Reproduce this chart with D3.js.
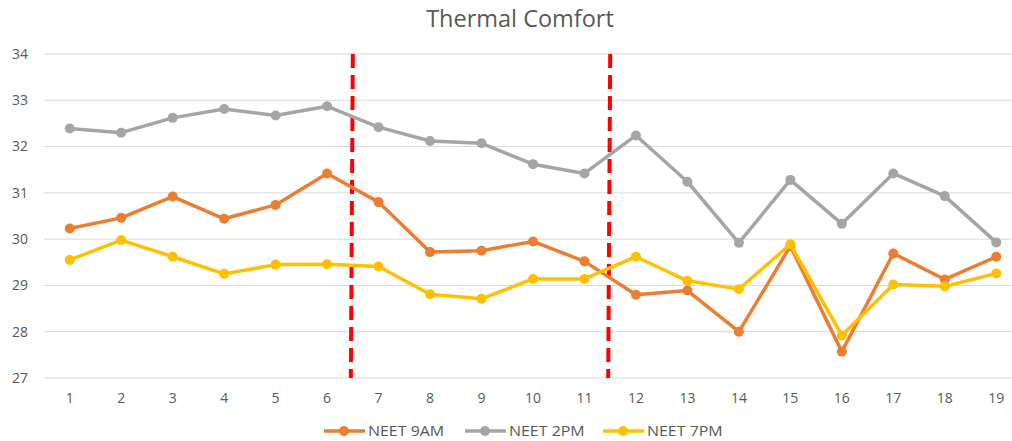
<!DOCTYPE html>
<html>
<head>
<meta charset="utf-8">
<script src="https://cdn.jsdelivr.net/npm/d3@7"></script>
<style>
  body { margin: 0; background: #fff; }
  svg { display: block; font-family: 'Open Sans', sans-serif; }
</style>
</head>
<body>
<div id="chart"></div>
<script>
const days = [1,2,3,4,5,6,7,8,9,10,11,12,13,14,15,16,17,18,19]
const neet9am = [30.23,30.46,30.92,30.44,30.74,31.42,30.80,29.72,29.75,29.95,29.52,28.80,28.89,28.00,29.85,27.57,29.69,29.13,29.62]
const neet2pm = [32.39,32.30,32.62,32.81,32.67,32.87,32.42,32.12,32.07,31.62,31.42,32.24,31.24,29.92,31.28,30.33,31.42,30.93,29.93]
const neet7pm = [29.55,29.98,29.62,29.25,29.45,29.46,29.41,28.81,28.71,29.14,29.14,29.62,29.10,28.92,29.89,27.92,29.02,28.98,29.26]
const yTicks = [27,28,29,30,31,32,33,34]
const dividers = [6.5, 11.5]

const series = [
  {name:'NEET 9AM', values:neet9am, color:'#ed7d31'},
  {name:'NEET 2PM', values:neet2pm, color:'#a5a5a5'},
  {name:'NEET 7PM', values:neet7pm, color:'#ffc000'}
]

const W = 1012, H = 441
const svg = d3.select('#chart').append('svg').attr('width',W).attr('height',H)

const x = d3.scalePoint().domain(days).range([44,1022]).padding(0.5)
const xi = d3.scaleLinear().domain([1,19]).range([x(1),x(19)])
const y = d3.scaleLinear().domain([27,34]).range([378,54])

svg.append('text').attr('x',520).attr('y',27).attr('text-anchor','middle')
  .attr('font-size',23.5).attr('fill','#595959').text('Thermal Comfort')

// gridlines
svg.append('g').selectAll('line').data(yTicks).enter().append('line')
  .attr('x1',44).attr('x2',1022)
  .attr('y1',d => y(d)).attr('y2',d => y(d))
  .attr('stroke','#d9d9d9').attr('stroke-width',1)

svg.append('g').selectAll('text').data(yTicks).enter().append('text')
  .attr('x',28).attr('y',d => y(d)).attr('dy','0.35em').attr('text-anchor','end')
  .attr('font-size',14).attr('fill','#595959').text(d => d)

svg.append('g').selectAll('text').data(days).enter().append('text')
  .attr('x',d => x(d)).attr('y',398).attr('dy','0.35em').attr('text-anchor','middle')
  .attr('font-size',14).attr('fill','#595959').text(d => d)

// dashed dividers
svg.append('g').selectAll('line').data(dividers).enter().append('line')
  .attr('x1',d => xi(d)).attr('x2',d => xi(d) - 2)
  .attr('y1',y(34)).attr('y2',y(27))
  .attr('stroke','#ff0000').attr('stroke-width',4).attr('stroke-dasharray','14,7')

const line = d3.line().x((d,i) => x(days[i])).y(d => y(d))

series.forEach(s => {
  const g = svg.append('g')
  g.append('path').attr('d',line(s.values)).attr('fill','none')
    .attr('stroke',s.color).attr('stroke-width',3.5).attr('stroke-linejoin','round')
  g.selectAll('circle').data(s.values).enter().append('circle')
    .attr('cx',(d,i) => x(days[i])).attr('cy',d => y(d)).attr('r',5)
    .attr('fill',s.color)
})

// legend
const legendX = [324, 465, 603]
const lg = svg.append('g').selectAll('g').data(series).enter().append('g')
  .attr('transform',(d,i) => `translate(${legendX[i]},431)`)
lg.append('line').attr('x1',0).attr('x2',41).attr('stroke',d => d.color).attr('stroke-width',3.5)
lg.append('circle').attr('cx',20).attr('r',5).attr('fill',d => d.color)
lg.append('text').attr('transform','translate(44,0) scale(1.14,1)').attr('dy','0.35em')
  .attr('font-size',14).attr('fill','#595959').text(d => d.name)
</script>
</body>
</html>
